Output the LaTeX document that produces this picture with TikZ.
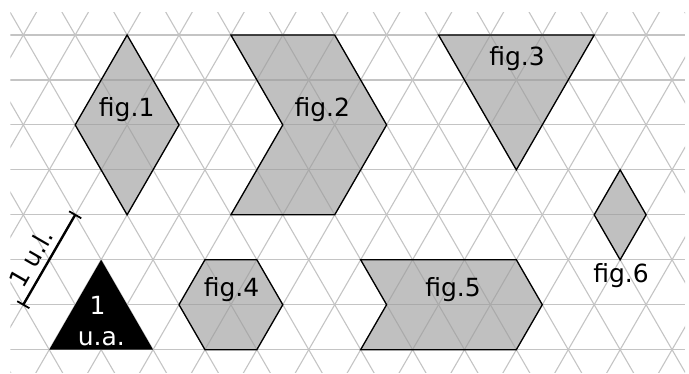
\documentclass[tikz,border=0pt]{standalone}
\usepackage{fontspec}
\setmainfont{DejaVu Sans}
\usetikzlibrary{calc}
\tikzset{
  gridline/.style={draw=black!23, line width=1.1pt},
  figfill/.style={fill=black!39, fill opacity=0.63},
  figedge/.style={draw=black, line width=1.3pt, line join=miter},
  figlabel/.style={font=\fontsize{25}{30}\selectfont, anchor=base, inner sep=0pt},
  unitlabel/.style={font=\fontsize{25}{30}\selectfont, anchor=base, inner sep=0pt, text=white},
  measure/.style={draw=black, line width=2.4pt},
}
\begin{document}
\begin{tikzpicture}[x=1pt,y=-1pt]
\useasboundingbox (0,0) rectangle (689,373);
% lattice points
\foreach \r in {0,...,7}{
  \foreach \m in {-1,...,26}{
    \coordinate (v\m-\r) at ({23.3+25.95*\m},{35+44.95*\r});
  }
}
% grid
\begin{scope}
  \clip (10.3,12.5) rectangle (685,372.5);
  \foreach \r in {0,...,7}{
    \draw[gridline] (10.3,{35+44.95*\r}) -- (685,{35+44.95*\r});
  }
  \foreach \k in {-20,-18,...,40}{
    \draw[gridline] ({23.3+25.95*(\k-1)},{35-44.95}) -- ({23.3+25.95*(\k+8)},{35+44.95*8});
    \draw[gridline] ({23.3+25.95*(\k+1)},{35-44.95}) -- ({23.3+25.95*(\k-8)},{35+44.95*8});
  }
\end{scope}
% fig.1
\fill[figfill] (v4-0) -- (v6-2) -- (v4-4) -- (v2-2) -- cycle;
\draw[figedge] (v4-0) -- (v6-2) -- (v4-4) -- (v2-2) -- cycle;
% fig.2
\fill[figfill] (v8-0) -- (v12-0) -- (v14-2) -- (v12-4) -- (v8-4) -- (v10-2) -- cycle;
\draw[figedge] (v8-0) -- (v12-0) -- (v14-2) -- (v12-4) -- (v8-4) -- (v10-2) -- cycle;
% fig.3
\fill[figfill] (v16-0) -- (v22-0) -- (v19-3) -- cycle;
\draw[figedge] (v16-0) -- (v22-0) -- (v19-3) -- cycle;
% fig.4
\fill[figfill] (v7-5) -- (v9-5) -- (v10-6) -- (v9-7) -- (v7-7) -- (v6-6) -- cycle;
\draw[figedge] (v7-5) -- (v9-5) -- (v10-6) -- (v9-7) -- (v7-7) -- (v6-6) -- cycle;
% fig.5
\fill[figfill] (v13-5) -- (v19-5) -- (v20-6) -- (v19-7) -- (v13-7) -- (v14-6) -- cycle;
\draw[figedge] (v13-5) -- (v19-5) -- (v20-6) -- (v19-7) -- (v13-7) -- (v14-6) -- cycle;
% fig.6
\fill[figfill] (v23-3) -- (v24-4) -- (v23-5) -- (v22-4) -- cycle;
\draw[figedge] (v23-3) -- (v24-4) -- (v23-5) -- (v22-4) -- cycle;
% unit triangle
\fill[black] (v3-5) -- (v5-7) -- (v1-7) -- cycle;
% unit length
\draw[measure] (v0-6) -- (v2-4);
\draw[measure, line width=1.8pt] ($(v0-6)!7pt!90:(v2-4)$) -- ($(v0-6)!7pt!-90:(v2-4)$);
\draw[measure, line width=1.8pt] ($(v2-4)!7pt!90:(v0-6)$) -- ($(v2-4)!7pt!-90:(v0-6)$);
\node[font=\fontsize{25}{30}\selectfont, rotate=60, inner sep=0pt] (ul) at (31,258) {1 u.l.};
% labels
\node[figlabel] (f1) at (126.7,116) {fig.1};
\node[figlabel] (f2) at (322.3,116.5) {fig.2};
\node[figlabel] (f3) at (517,65) {fig.3};
\node[figlabel] (f4) at (231.5,296) {fig.4};
\node[figlabel] (f5) at (453,296) {fig.5};
\node[figlabel] (f6) at (621,282.5) {fig.6};
\node[unitlabel] (ua1) at (97.5,314) {1};
\node[unitlabel] (ua2) at (101.3,345) {u.a.};
\end{tikzpicture}
\end{document}
